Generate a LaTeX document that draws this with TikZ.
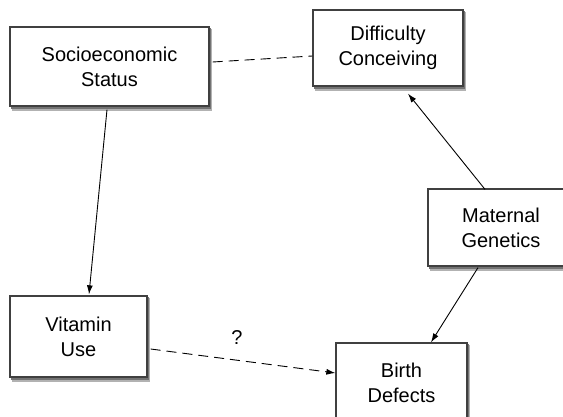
\documentclass[tikz,border=0pt]{standalone}
\usepackage{fontspec}
\setmainfont{Liberation Sans}
\usetikzlibrary{arrows.meta,calc,backgrounds}
\begin{document}
\begin{tikzpicture}[x=1pt,y=-1pt,
  box/.style={draw=black!75,line width=1.3pt,fill=white,align=center,
    font=\fontsize{20}{25}\selectfont,inner sep=0pt},
  conn/.style={line width=0.9pt,-{Latex[length=9pt,width=6pt]}},
  dashline/.style={line width=0.9pt,dash pattern=on 10pt off 6pt}]
\useasboundingbox (0,0) rectangle (563,417);
\node[box,minimum width=199pt,minimum height=79pt] (ses) at (109.5,66.5) {Socioeconomic\\Status};
\node[box,minimum width=150pt,minimum height=76pt] (dc) at (388,48) {Difficulty\\Conceiving};
\node[box,minimum width=146pt,minimum height=77pt] (mg) at (501,227.5) {Maternal\\Genetics};
\node[box,minimum width=131pt,minimum height=80pt] (bd) at (401.5,383) {Birth\\Defects};
\node[box,minimum width=137pt,minimum height=81pt] (vu) at (78.5,336.5) {Vitamin\\Use};
\begin{scope}[on background layer]
\foreach \n in {ses,dc,mg,bd,vu}{
  \fill[black!30] ($(\n.north west)+(2.5,3)$) rectangle ($(\n.south east)+(2.5,4)$);
  \fill[black!55] ($(\n.north west)+(1.5,2)$) rectangle ($(\n.south east)+(1.5,2.8)$);
}
\end{scope}
\draw[conn] ([xshift=-2.5pt,yshift=-3pt]ses.south) -- ([xshift=10.5pt,yshift=1pt]vu.north);
\draw[dashline] ([xshift=3pt,yshift=4.5pt]ses.east) -- ([yshift=-8pt]dc.west);
\draw[conn] ([xshift=-16pt,yshift=-1pt]mg.north) -- ([xshift=20pt,yshift=-7pt]dc.south);
\draw[conn] ([xshift=-23pt,yshift=-1pt]mg.south) -- ([xshift=29.5pt]bd.north);
\draw[conn,dash pattern=on 10pt off 6pt] ([xshift=3pt,yshift=-12.5pt]vu.east) -- ([yshift=10pt]bd.west);
\node[font=\fontsize{20}{25}\selectfont] (q) at (237,338) {?};
\end{tikzpicture}
\end{document}
